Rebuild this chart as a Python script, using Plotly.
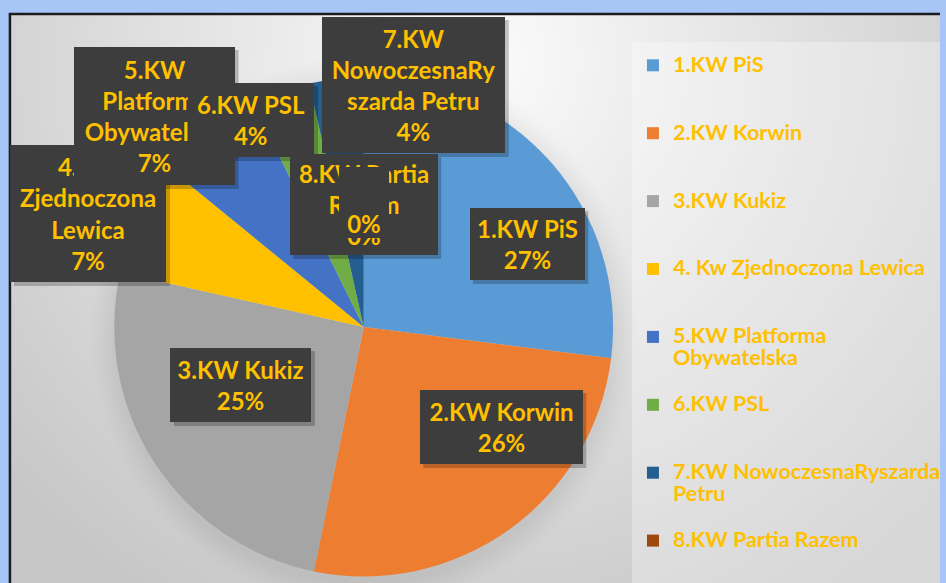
import base64, zlib, struct
import numpy as np
import plotly.graph_objects as go

# ---------------- data ----------------
labels = ["1.KW PiS", "2.KW Korwin", "3.KW Kukiz", "4. Kw Zjednoczona Lewica",
          "5.KW Platforma Obywatelska", "6.KW PSL",
          "7.KW NowoczesnaRyszarda Petru", "8.KW Partia Razem"]
values = [27.0, 26.2, 25.3, 7.4, 6.8, 3.8, 3.5, 0.0]
colors = ["#5B9BD5", "#ED7D31", "#A5A5A5", "#FFC000",
          "#4472C4", "#70AD47", "#255E91", "#9E480E"]
# how the texts are wrapped in the chart
legend_lines = [["1.KW PiS"], ["2.KW Korwin"], ["3.KW Kukiz"], ["4. Kw Zjednoczona Lewica"],
                ["5.KW Platforma", "Obywatelska"], ["6.KW PSL"],
                ["7.KW NowoczesnaRyszarda", "Petru"], ["8.KW Partia Razem"]]
label_lines = [["1.KW PiS"], ["2.KW Korwin"], ["3.KW Kukiz"], ["4. Kw", "Zjednoczona", "Lewica"],
               ["5.KW", "Platforma", "Obywatelska"], ["6.KW PSL"],
               ["7.KW", "NowoczesnaRy", "szarda Petru"], ["8.KW Partia", "Razem"]]

# ---------------- layout constants (pixels) ----------------
W, H = 946, 583
YELLOW = "#FFC000"
BOX = "#3d3d3d"
# label boxes: left, right, top, bottom
boxes = {0: (473, 588, 208, 280), 1: (423, 586, 390, 464), 2: (172, 313, 348, 422),
         3: (11, 167, 145, 282), 4: (75, 236, 47, 185), 5: (190, 316, 83, 157),
         6: (325, 508, 17, 153), 7: (292, 440, 154, 255)}
draw_order = [3, 4, 5, 7, "zero", 6, 0, 1, 2]
zero_box = (341, 391, 167, 238)
pie_cx, pie_cy, pie_r = 366, 327, 251


def px(x):
    return x / W


def py(y):
    return 1 - y / H


# ---------------- background gradient image ----------------
def png_gray(arr):
    h, w = arr.shape
    raw = b"".join(b"\x00" + arr[i].tobytes() for i in range(h))

    def chunk(t, d):
        return struct.pack(">I", len(d)) + t + d + struct.pack(">I", zlib.crc32(t + d) & 0xffffffff)

    return (b"\x89PNG\r\n\x1a\n" + chunk(b"IHDR", struct.pack(">IIBBBBB", w, h, 8, 0, 0, 0, 0))
            + chunk(b"IDAT", zlib.compress(raw, 9)) + chunk(b"IEND", b""))


x0, y0 = 11, 15
yy, xx = np.mgrid[y0:H, x0:W].astype(float)
d = np.hypot(xx - 480, yy - 60)
g = 252 - 0.084 * d
g = np.clip(g, 198, 252)
dp = np.hypot(xx - pie_cx, yy - (pie_cy + 5))
sh = np.clip(1 - (dp - pie_r) / 28, 0, 1) ** 1.5 * 16
sh[dp < pie_r] = 16
g = g - sh
img = png_gray(np.clip(g, 0, 255).astype(np.uint8))
src = "data:image/png;base64," + base64.b64encode(img).decode()

# ---------------- figure ----------------
total = sum(values)
pcts = [int(v / total * 100 + 0.5) for v in values]


def leg_text(lines, last=False):
    parts = ["<span style='font-size:21.5px'>%s</span>" % s for s in lines]
    while len(parts) < 3 and not last:
        parts.append(" ")
    return "<br>".join(parts)


fig = go.Figure(go.Pie(
    labels=[leg_text(l, i == len(legend_lines) - 1) for i, l in enumerate(legend_lines)],
    values=values,
    marker=dict(colors=colors, line=dict(width=0)),
    sort=False, direction="clockwise", rotation=0,
    textinfo="none", hoverinfo="skip",
    domain=dict(x=[px(pie_cx - pie_r), px(pie_cx + pie_r)],
                y=[py(pie_cy + pie_r), py(pie_cy - pie_r)]),
))

shapes = [
    dict(type="rect", xref="paper", yref="paper", x0=px(636), x1=px(946), y0=py(583), y1=py(42),
         fillcolor="rgba(255,255,255,0.3)", line=dict(width=0), layer="below"),
    dict(type="line", xref="paper", yref="paper", x0=px(10), x1=px(10), y0=py(583), y1=py(13),
         line=dict(color="#1c1c1c", width=2.5)),
    dict(type="line", xref="paper", yref="paper", x0=px(9), x1=px(946), y0=py(14), y1=py(14),
         line=dict(color="#1c1c1c", width=2.5)),
]

annotations = []
for key in draw_order:
    if key == "zero":
        l, r, t, b = zero_box
        text = "%d%%" % pcts[7]
        valign = "bottom"
    else:
        l, r, t, b = boxes[key]
        text = "<br>".join(label_lines[key] + ["%d%%" % pcts[key]])
        valign = "middle"
    shapes.append(dict(type="rect", xref="paper", yref="paper", x0=px(l + 3), x1=px(r + 4),
                       y0=py(b + 4), y1=py(t + 3), fillcolor="rgba(0,0,0,0.22)",
                       line=dict(width=0), layer="above"))
    annotations.append(dict(
        xref="paper", yref="paper", x=px((l + r) / 2), y=py((t + b) / 2),
        xanchor="center", yanchor="middle", showarrow=False,
        width=r - l, height=b - t, borderpad=0, borderwidth=0,
        bgcolor=BOX, align="center", valign=valign,
        text=text, font=dict(family="Lato", size=24, color=YELLOW, weight="bold"),
    ))

fig.update_layout(
    width=W, height=H, margin=dict(l=0, r=0, t=0, b=0),
    paper_bgcolor="#a8c5f7", plot_bgcolor="rgba(0,0,0,0)",
    images=[dict(source=src, xref="paper", yref="paper", x=px(x0), y=py(y0),
                 sizex=(W - x0) / W, sizey=(H - y0) / H, xanchor="left", yanchor="top",
                 sizing="stretch", layer="below")],
    shapes=shapes, annotations=annotations,
    showlegend=True,
    legend=dict(x=px(637), y=py(48), xanchor="left", yanchor="top", valign="top",
                bgcolor="rgba(0,0,0,0)", traceorder="normal",
                font=dict(family="Lato", size=16.64, color=YELLOW, weight="bold")),
)

fig.write_html("out.html", config={"displayModeBar": False},
               post_script="document.body.style.margin='0';document.body.style.overflow='hidden';")
